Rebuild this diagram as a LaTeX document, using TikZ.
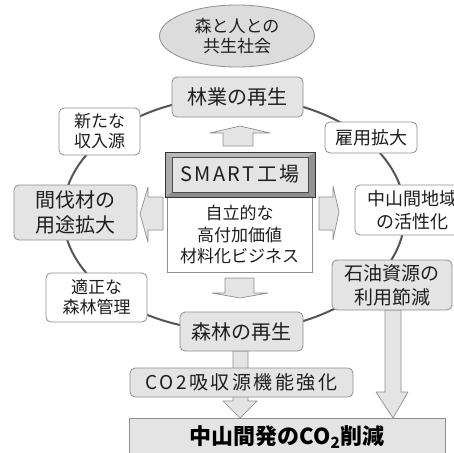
\documentclass[tikz,border=0pt]{standalone}
\usepackage{fontspec}
\setmainfont{Noto Sans CJK JP}
\usetikzlibrary{shapes.geometric,backgrounds}
\definecolor{boxgray}{HTML}{E4E4E4}
\definecolor{ellgray}{HTML}{DCDCDC}
\definecolor{edgegray}{HTML}{8E8E8E}
\definecolor{ringgray}{HTML}{555555}
\definecolor{textgray}{HTML}{1E1E1E}
\begin{document}
\begin{tikzpicture}[x=1pt,y=-1pt,
  gbox/.style={draw=edgegray, fill=boxgray, rounded corners=5pt, line width=0.8pt, inner sep=0pt,
    align=center, text=textgray, font=\fontsize{20}{25}\selectfont},
  wbox/.style={gbox, fill=white, font=\fontsize{17}{20}\selectfont},
  blockarrow/.style={draw=edgegray, fill=boxgray, line width=0.7pt, line join=round},
  ring/.style={draw=ringgray, line width=2pt}]
\useasboundingbox (0,0) rectangle (454,452);

% nodes
\node[ellipse, draw=edgegray, fill=ellgray, line width=0.8pt, minimum width=155pt, minimum height=62pt,
  inner sep=0pt, align=center, text=textgray, font=\fontsize{17}{20}\selectfont] (goal) at (237,36) {森と人との\\共生社会};
\node[gbox, minimum width=131pt, minimum height=40pt] (forestry) at (237.5,97) {林業の再生};
\node[wbox, minimum width=81pt, minimum height=47pt] (income) at (99.5,131.5) {新たな\\収入源};
\node[wbox, minimum width=92pt, minimum height=31pt, font=\fontsize{18}{21}\selectfont] (employ) at (371,137.5) {雇用拡大};
\node[gbox, minimum width=123pt, minimum height=55pt] (thinning) at (75.5,212.5) {間伐材の\\用途拡大};
\node[wbox, minimum width=114pt, minimum height=50pt, font=\fontsize{18}{23}\selectfont] (region) at (412,210) {中山間地域\\の活性化};
\node[wbox, minimum width=101pt, minimum height=49pt] (manage) at (96.5,297.5) {適正な\\森林管理};
\node[gbox, minimum width=120pt, minimum height=50pt, font=\fontsize{19}{24}\selectfont] (oil) at (392,285) {石油資源の\\利用節減};
\node[gbox, minimum width=123pt, minimum height=39pt] (forest) at (241.5,331.5) {森林の再生};
\node[gbox, minimum width=223pt, minimum height=29pt, font=\fontsize{19}{22}\selectfont\addfontfeatures{LetterSpace=13}] (sink) at (241.5,382.5) {CO2吸収源機能強化};
\node[draw=edgegray, fill=boxgray, line width=0.8pt, minimum width=316pt, minimum height=38pt, inner sep=0pt,
  text=black, font=\bfseries\fontsize{22}{26}\selectfont] (cut) at (287,437) {中山間発のCO\textsubscript{2}削減};

% SMART factory
\node[draw=edgegray, fill=white, line width=0.8pt, minimum width=145pt, minimum height=75pt, inner sep=0pt,
  align=center, text=textgray, font=\fontsize{17}{21.5}\selectfont] (biz) at (239.5,234.5) {自立的な\\高付加価値\\材料化ビジネス};
\fill[gray!55] (165,152) -- (315,152) -- (308,157) -- (172,157) -- cycle;
\fill[gray!65] (165,152) -- (172,157) -- (172,192) -- (165,197) -- cycle;
\fill[gray!85] (315,152) -- (308,157) -- (308,192) -- (315,197) -- cycle;
\fill[gray!90] (165,197) -- (172,192) -- (308,192) -- (315,197) -- cycle;
\node[fill=boxgray, draw=gray!60!black, line width=0.5pt, minimum width=136pt, minimum height=35pt, inner sep=0pt,
  text=textgray, font=\fontsize{20}{24}\selectfont\addfontfeatures{LetterSpace=12}] (smart) at (240,174.5) {SMART工場};
\draw[gray!40!black, line width=0.6pt] (165,152) rectangle (315,197);

\begin{scope}[on background layer]
  \draw[ring] (234,214) ellipse [x radius=171pt, y radius=117pt];
  % up arrow
  \draw[blockarrow] (223,146) -- (223,133) -- (210,133) -- (240,126) -- (270,133) -- (253,133) -- (253,146) -- cycle;
  % down arrow
  \draw[blockarrow] (225,278) -- (225,293) -- (212,293) -- (240,298) -- (268,293) -- (254,293) -- (254,278) -- cycle;
  % left arrow
  \draw[blockarrow] (163,197) -- (148,197) -- (148,187) -- (140,214) -- (148,242) -- (148,230) -- (163,230) -- cycle;
  % right arrow
  \draw[blockarrow] (319,197) -- (333,197) -- (333,186) -- (339,212) -- (333,240) -- (333,230) -- (319,230) -- cycle;
  % forest -> cut
  \draw[blockarrow] (233,351) -- (233,401) -- (223,401) -- (240,418) -- (257,401) -- (248,401) -- (248,351) -- cycle;
  % oil -> cut
  \draw[blockarrow] (385,310) -- (385,392) -- (376,392) -- (393,418) -- (408,392) -- (401,392) -- (401,310) -- cycle;
\end{scope}
\end{tikzpicture}
\end{document}
